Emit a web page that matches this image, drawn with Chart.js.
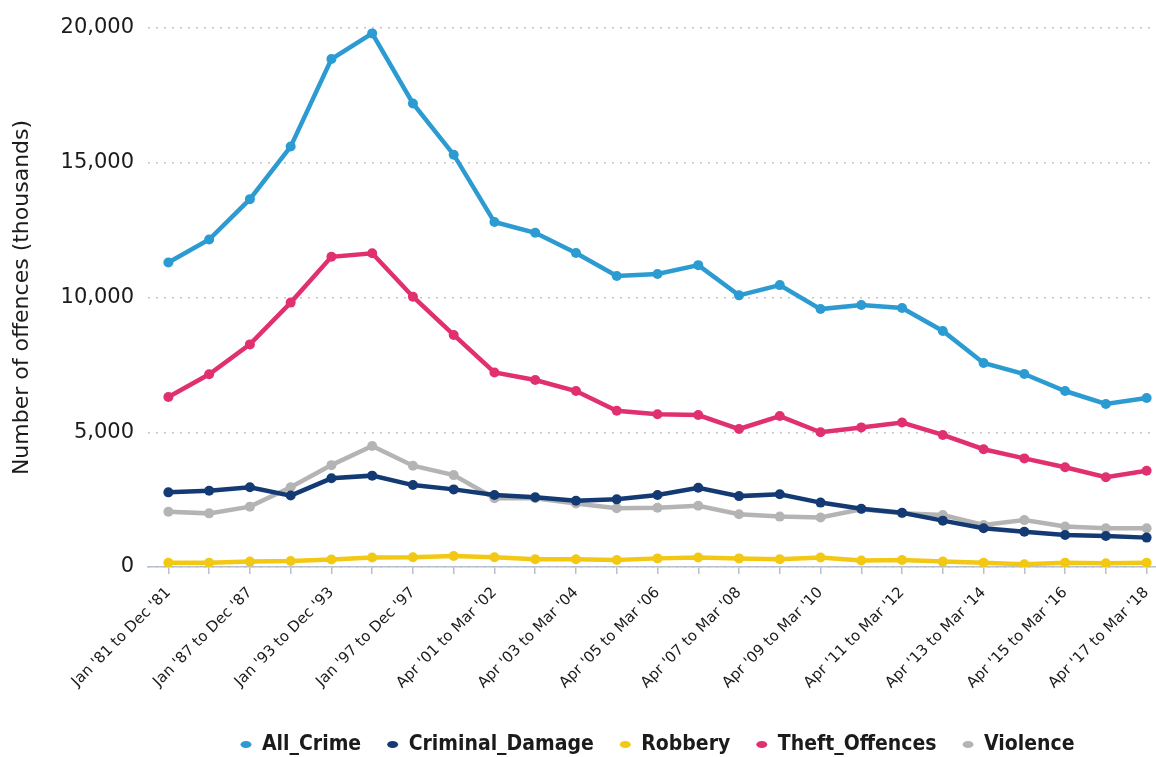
<!DOCTYPE html>
<html>
<head>
<meta charset="utf-8">
<script src="https://cdn.jsdelivr.net/npm/chart.js@4/dist/chart.umd.min.js"></script>
<style>
  html, body { margin: 0; padding: 0; background: #fff; overflow: hidden; }
  #wrap { width: 1172px; height: 757px; }
</style>
</head>
<body>
<div id="wrap"><canvas id="crimeChart" width="1172" height="757"></canvas></div>
<script>
// survey periods (only every other one gets a visible label)
const periods = [
  "Jan '81 to Dec '81", "Jan '83 to Dec '83", "Jan '87 to Dec '87", "Jan '91 to Dec '91",
  "Jan '93 to Dec '93", "Jan '95 to Dec '95", "Jan '97 to Dec '97", "Jan '99 to Dec '99",
  "Apr '01 to Mar '02", "Apr '02 to Mar '03", "Apr '03 to Mar '04", "Apr '04 to Mar '05",
  "Apr '05 to Mar '06", "Apr '06 to Mar '07", "Apr '07 to Mar '08", "Apr '08 to Mar '09",
  "Apr '09 to Mar '10", "Apr '10 to Mar '11", "Apr '11 to Mar '12", "Apr '12 to Mar '13",
  "Apr '13 to Mar '14", "Apr '14 to Mar '15", "Apr '15 to Mar '16", "Apr '16 to Mar '17",
  "Apr '17 to Mar '18"
];

// offences, thousands
const allCrime = [11300, 12150, 13650, 15600, 18850, 19800, 17200, 15300, 12800, 12400, 11650, 10800, 10870,
  11200, 10080, 10460, 9570, 9720, 9610, 8760, 7570, 7160, 6530, 6050, 6270];
const criminalDamage = [2770, 2830, 2960, 2650, 3290, 3390, 3040, 2880, 2670, 2590, 2460, 2510, 2670,
  2940, 2630, 2700, 2390, 2160, 2010, 1720, 1440, 1310, 1190, 1150, 1090];
const robbery = [160, 160, 200, 220, 280, 350, 360, 410, 360, 290, 290, 260, 320,
  350, 320, 290, 350, 240, 260, 200, 160, 100, 160, 140, 160];
const theftOffences = [6310, 7150, 8260, 9810, 11510, 11640, 10030, 8610, 7220, 6940, 6530, 5800, 5670,
  5640, 5120, 5600, 5000, 5180, 5360, 4900, 4370, 4030, 3700, 3330, 3570];
const violence = [2050, 1990, 2240, 2960, 3780, 4490, 3760, 3410, 2550, 2550, 2360, 2180, 2200,
  2270, 1960, 1870, 1840, 2140, 1990, 1930, 1560, 1740, 1500, 1440, 1440];

const yMin = 0;
const yMax = 20000;
const yStep = 5000;

const textColor = '#1b1b1b';
const baseFont = "'DejaVu Sans', 'Open Sans', sans-serif";

function series(label, data, color) {
  return {
    label: label,
    data: data,
    borderColor: color,
    backgroundColor: color,
    pointBackgroundColor: color,
    pointBorderWidth: 0,
    pointRadius: 5,
    borderWidth: 4.5,
    tension: 0
  };
}

// shrink the legend box so it sits low, under the rotated labels
const legendFit = {
  id: 'legendFit',
  beforeInit(chart) {
    const origFit = chart.legend.fit;
    chart.legend.fit = function () {
      origFit.call(this);
      this.height = 49;
    };
  }
};

const ctx = document.getElementById('crimeChart').getContext('2d');
new Chart(ctx, {
  type: 'line',
  data: {
    labels: periods,
    datasets: [
      series('All_Crime', allCrime, '#2b9bd1'),
      series('Criminal_Damage', criminalDamage, '#143a74'),
      series('Robbery', robbery, '#f3c813'),
      series('Theft_Offences', theftOffences, '#e1306f'),
      series('Violence', violence, '#b4b4b4')
    ]
  },
  options: {
    responsive: false,
    animation: false,
    layout: { padding: { top: 28, right: 4, left: 0, bottom: 0 } },
    plugins: {
      tooltip: { enabled: false },
      legend: {
        position: 'bottom',
        fullSize: false,
        labels: {
          usePointStyle: true,
          pointStyle: 'circle',
          pointStyleWidth: 11,
          boxWidth: 11,
          boxHeight: 5,
          padding: 26,
          color: textColor,
          font: { family: "'Liberation Sans Narrow', 'DejaVu Sans Condensed', sans-serif", size: 21, weight: 'bold' }
        }
      }
    },
    scales: {
      x: {
        offset: true,
        afterFit: s => { s.height = 141; },
        grid: { drawOnChartArea: false, drawTicks: true, tickLength: 7, color: '#b7bfcc', lineWidth: 1.5 },
        border: { display: true, color: '#b7bfcc', width: 1.5 },
        ticks: {
          autoSkip: false,
          minRotation: 45,
          maxRotation: 45,
          padding: 10,
          color: textColor,
          font: { family: baseFont, size: 15 },
          callback: function (val, i) { return i % 2 === 0 ? this.getLabelForValue(val) : ''; }
        }
      },
      y: {
        min: yMin,
        max: yMax,
        afterFit: s => { s.width = 148; },
        border: { display: false, dash: [2, 6] },
        grid: { color: '#c4c4c4', lineWidth: 1.5, drawTicks: false },
        ticks: {
          stepSize: yStep,
          padding: 14,
          color: textColor,
          font: { family: baseFont, size: 21 },
          callback: v => v.toLocaleString('en-GB')
        },
        title: {
          display: true,
          text: 'Number of offences (thousands)',
          color: textColor,
          padding: { top: 9, bottom: 0 },
          font: { family: baseFont, size: 22 }
        }
      }
    }
  },
  plugins: [legendFit]
});
</script>
</body>
</html>
